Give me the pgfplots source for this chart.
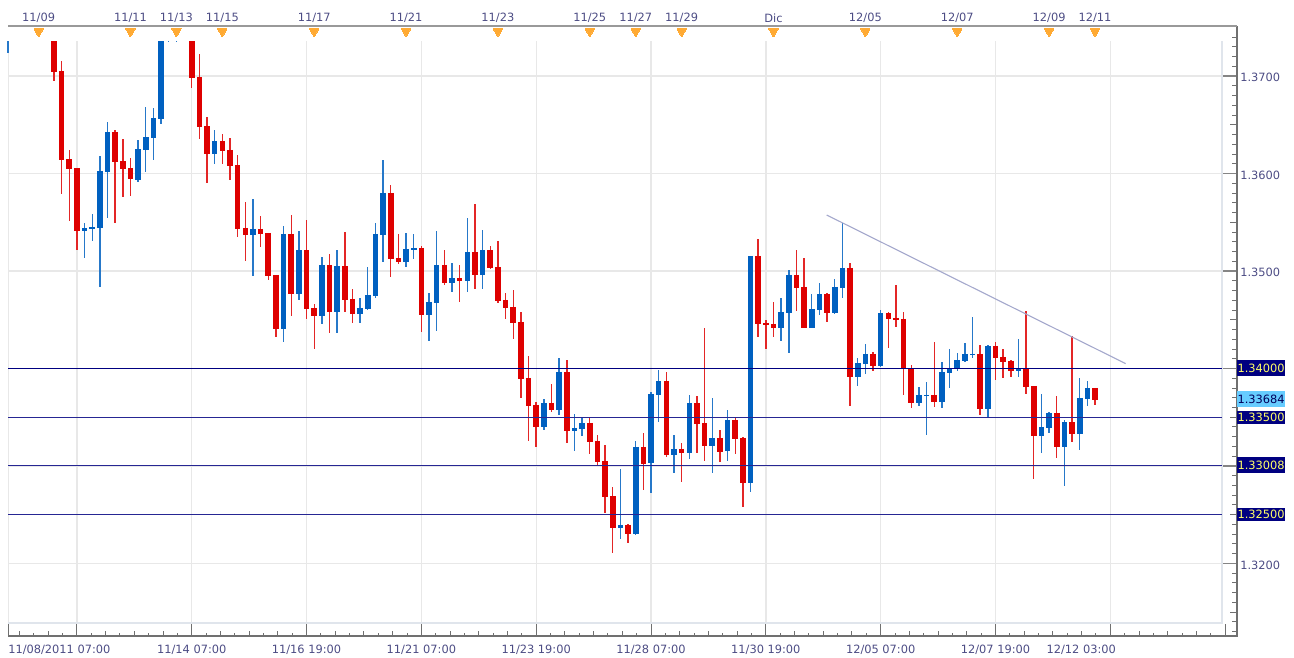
\documentclass[border=0pt]{standalone}
\usepackage{fontspec}
\setmainfont{DejaVu Sans}
\usepackage{pgfplots}
\usepackage{pgfplotstable}
\pgfplotsset{compat=1.18}
\newlength\px \setlength\px{0.75pt}
\definecolor{cred}{HTML}{DE0000}
\definecolor{cblue}{HTML}{0060C0}
\definecolor{navyb}{HTML}{000080}
\definecolor{lab}{HTML}{4C4C84}
\definecolor{gridc}{HTML}{E8E8E8}
\definecolor{edgec}{HTML}{E0E5EC}
\definecolor{tickc}{HTML}{707070}
\definecolor{trend}{HTML}{A4A8CC}
\definecolor{orangem}{HTML}{FFAA33}
\definecolor{yel}{HTML}{FFFF66}
\definecolor{cyanb}{HTML}{66CCFF}
% i high bodytop bodybottom low
\pgfplotstableread{
i H T B L
-3 1.37359 1.37359 1.37044 1.36949
-2 1.37151 1.37051 1.36135 1.35790
-1 1.36241 1.36146 1.36043 1.35516
0 1.36053 1.36053 1.35413 1.35219
5 1.36443 1.36426 1.36118 1.35495
6 1.36351 1.36125 1.36043 1.35762
7 1.36159 1.36053 1.35944 1.35769
15 1.37359 1.37359 1.36976 1.36877
16 1.37223 1.36987 1.36474 1.36354
17 1.36576 1.36484 1.36200 1.35903
19 1.36402 1.36333 1.36231 1.36097
20 1.36361 1.36241 1.36077 1.35933
21 1.36187 1.36087 1.35431 1.35349
22 1.35708 1.35441 1.35369 1.35103
24 1.35564 1.35431 1.35380 1.35246
25 1.35390 1.35390 1.34949 1.34908
26 1.34959 1.34959 1.34405 1.34323
28 1.35574 1.35380 1.34764 1.34539
30 1.35523 1.35215 1.34610 1.34508
31 1.34662 1.34621 1.34539 1.34200
33 1.35174 1.35062 1.34580 1.34364
35 1.35400 1.35051 1.34703 1.34580
36 1.34815 1.34713 1.34559 1.34467
41 1.35882 1.35800 1.35123 1.34939
42 1.35380 1.35133 1.35092 1.35072
45 1.35256 1.35236 1.34549 1.34374
48 1.35215 1.35062 1.34877 1.34856
50 1.35062 1.34928 1.34898 1.34682
52 1.35687 1.35195 1.34959 1.34815
54 1.35256 1.35215 1.35031 1.35021
55 1.35308 1.35041 1.34692 1.34672
56 1.34774 1.34703 1.34621 1.34508
57 1.34805 1.34631 1.34467 1.34303
58 1.34580 1.34477 1.33892 1.33698
59 1.34128 1.33903 1.33616 1.33257
60 1.33657 1.33626 1.33400 1.33195
62 1.33841 1.33646 1.33574 1.33554
64 1.34087 1.33964 1.33359 1.33236
67 1.33503 1.33441 1.33246 1.33123
68 1.33318 1.33257 1.33041 1.33010
69 1.33216 1.33051 1.32682 1.32518
70 1.32785 1.32692 1.32364 1.32108
72 1.32405 1.32395 1.32303 1.32210
74 1.33339 1.33195 1.33021 1.32754
77 1.33964 1.33872 1.33113 1.33092
79 1.33236 1.33175 1.33133 1.32836
81 1.33718 1.33646 1.33431 1.33133
82 1.34415 1.33441 1.33205 1.33051
84 1.33370 1.33287 1.33144 1.33041
86 1.33492 1.33472 1.33277 1.33123
87 1.33298 1.33287 1.32826 1.32580
89 1.35328 1.35154 1.34457 1.34323
90 1.34498 1.34467 1.34446 1.34200
91 1.34682 1.34457 1.34415 1.34323
94 1.35215 1.34959 1.34826 1.34590
95 1.35133 1.34836 1.34415 1.34415
98 1.34774 1.34764 1.34569 1.34477
101 1.35082 1.35031 1.33913 1.33616
104 1.34169 1.34149 1.34026 1.33974
106 1.34580 1.34569 1.34508 1.34210
107 1.34856 1.34518 1.34498 1.34426
108 1.34580 1.34508 1.34005 1.33728
109 1.34036 1.33998 1.33646 1.33595
112 1.34272 1.33728 1.33657 1.33605
118 1.34241 1.34149 1.33585 1.33523
120 1.34272 1.34231 1.34108 1.33882
121 1.34200 1.34118 1.34067 1.33903
122 1.34087 1.34077 1.33974 1.33913
124 1.34590 1.33995 1.33810 1.33739
125 1.33821 1.33821 1.33308 1.32867
128 1.33718 1.33544 1.33195 1.33082
130 1.34333 1.33451 1.33328 1.33246
133 1.33800 1.33800 1.33677 1.33626
}\redtab
\pgfplotstableread{
i H T B L
-9 1.37359 1.37359 1.37359 1.37236
1 1.35489 1.35438 1.35413 1.35136
2 1.35582 1.35451 1.35431 1.35311
3 1.36180 1.36026 1.35441 1.34833
4 1.36528 1.36426 1.36015 1.35547
8 1.36344 1.36251 1.35933 1.35916
9 1.36679 1.36374 1.36241 1.36015
10 1.36669 1.36566 1.36364 1.36138
11 1.37359 1.37359 1.36559 1.36508
12 1.37359 1.37359 1.37359 1.37349
13 1.37359 1.37359 1.37359 1.37349
18 1.36443 1.36333 1.36200 1.36097
23 1.35739 1.35431 1.35369 1.34949
27 1.35462 1.35380 1.34405 1.34272
29 1.35410 1.35215 1.34764 1.34703
32 1.35144 1.35062 1.34539 1.34457
34 1.35215 1.35051 1.34580 1.34364
37 1.34723 1.34621 1.34559 1.34467
38 1.35041 1.34754 1.34610 1.34600
39 1.35492 1.35380 1.34744 1.34723
40 1.36138 1.35800 1.35369 1.35092
43 1.35390 1.35226 1.35092 1.35041
44 1.35380 1.35236 1.35215 1.35123
46 1.34774 1.34682 1.34549 1.34282
47 1.35410 1.35062 1.34672 1.34385
49 1.35082 1.34928 1.34877 1.34785
51 1.35544 1.35195 1.34898 1.34785
53 1.35421 1.35215 1.34959 1.34815
61 1.33687 1.33646 1.33400 1.33370
63 1.34108 1.33964 1.33574 1.33523
65 1.33533 1.33390 1.33359 1.33154
66 1.33492 1.33441 1.33380 1.33308
71 1.32969 1.32395 1.32364 1.32251
73 1.33257 1.33195 1.32303 1.32292
75 1.33759 1.33739 1.33031 1.32723
76 1.33985 1.33872 1.33728 1.33451
78 1.33318 1.33175 1.33113 1.32928
80 1.33728 1.33646 1.33133 1.33072
83 1.33698 1.33287 1.33205 1.32928
85 1.33574 1.33472 1.33154 1.33051
88 1.35154 1.35154 1.32826 1.32734
92 1.34723 1.34580 1.34415 1.34282
93 1.35010 1.34959 1.34569 1.34159
96 1.34764 1.34610 1.34415 1.34415
97 1.34877 1.34764 1.34600 1.34549
99 1.34918 1.34836 1.34569 1.34559
100 1.35492 1.35031 1.34826 1.34723
102 1.34108 1.34057 1.33913 1.33821
103 1.34251 1.34149 1.34046 1.33944
105 1.34600 1.34569 1.34026 1.34016
110 1.33810 1.33728 1.33646 1.33616
111 1.33862 1.33728 1.33718 1.33318
113 1.34067 1.33964 1.33657 1.33595
114 1.34200 1.34005 1.33954 1.33800
115 1.34159 1.34087 1.34005 1.33974
116 1.34262 1.34149 1.34077 1.34067
117 1.34528 1.34149 1.34139 1.34108
119 1.34241 1.34231 1.33585 1.33492
123 1.34303 1.33995 1.33974 1.33913
126 1.33739 1.33400 1.33308 1.33133
127 1.33554 1.33544 1.33390 1.33339
129 1.33472 1.33451 1.33195 1.32795
131 1.33903 1.33698 1.33328 1.33164
132 1.33872 1.33800 1.33687 1.33616
}\bluetab
\pgfplotstableread{
i y label
-5 1.37456 11/09
7 1.37456 11/11
13 1.37456 11/13
19 1.37456 11/15
31 1.37456 11/17
43 1.37456 11/21
55 1.37456 11/23
67 1.37456 11/25
73 1.37456 11/27
79 1.37456 11/29
91 1.37456 Dic
103 1.37456 12/05
115 1.37456 12/07
127 1.37456 12/09
133 1.37456 12/11
}\eventtab
\newcommand\lf{\fontsize{8.55}{10}\selectfont}
\begin{document}
\begin{tikzpicture}
\path[use as bounding box] (0,0) rectangle (1294\px,657\px);
\begin{axis}[
  scale only axis, width=921.75pt, height=457.5pt,
  at={(8\px,21\px)}, anchor=south west,
  xmin=-9, xmax=151.55, ymin=1.31256, ymax=1.37513,
  clip=false,
  axis line style={draw=none},
  tick align=inside, xtick pos=bottom, ytick pos=right,
  tick style={draw=tickc, line width=1\px},
  major tick length=12\px, minor tick length=5.5\px,
  xtick={0,15,...,150},
  xticklabels={,11/14 07:00,11/16 19:00,11/21 07:00,11/23 19:00,11/28 07:00,11/30 19:00,12/05 07:00,12/07 19:00,,},
  xticklabel style={font=\lf, text=lab, inner sep=0pt, yshift=-8.5\px},
  minor xtick={-7.5,-3.75,...,150},
  extra x ticks={-5.625,-1.875,1.875,5.625,9.375,13.125,16.875,20.625,24.375,28.125,31.875,35.625,39.375,43.125,46.875,50.625,54.375,58.125,61.875,65.625,69.375,73.125,76.875,80.625,84.375,88.125,91.875,95.625,99.375,103.125,106.875,110.625,114.375,118.125,121.875,125.625,129.375,133.125,136.875,140.625,144.375,148.125},
  extra x tick labels={},
  extra x tick style={major tick length=3\px},
  ytick={1.32,1.33,1.34,1.35,1.36,1.37},
  yticklabels={1.3200,,,1.3500,1.3600,1.3700},
  yticklabel style={font=\lf, text=lab, anchor=west, inner sep=0pt, xshift=3\px, yshift=-1.5\px},
  minor ytick={1.313,1.314,...,1.3735},
  extra y ticks={1.315,1.325,1.335,1.345,1.355,1.365},
  extra y tick labels={},
  extra y tick style={major tick length=7.5\px},
  scaled y ticks=false,
]
% grid
\pgfplotsinvokeforeach{0,15,...,135}{
  \addplot[gridc, line width=1.3\px, forget plot] coordinates {(#1,1.37359) (#1,1.3139)};
}
\addplot[gridc, line width=1\px, forget plot] coordinates {(-9,1.37359) (-9,1.3139)};
\addplot[tickc, line width=1\px, forget plot] coordinates {(-9,1.3139) (-9,1.31256)};
\pgfplotsinvokeforeach{1.32,1.33,1.34,1.35,1.36,1.37}{
  \addplot[gridc, line width=1.3\px, forget plot] coordinates {(-9,#1) (149.6,#1)};
  \addplot[tickc!85, line width=1.3\px, forget plot] coordinates {(149.6,#1) (151.55,#1)};
}
\addplot[edgec, line width=2\px, forget plot] coordinates {(-9,1.31390) (149.6,1.31390) (149.6,1.37359)};
% frame
\addplot[tickc, line width=1.2\px, forget plot] coordinates {(-9,1.31256) (151.55,1.31256) (151.55,1.37513)};
\addplot[black!40, line width=1.2\px, forget plot] coordinates {(-9,1.37513) (151.55,1.37513)};
% wicks and bodies
\addplot[draw=none, mark=none, forget plot, error bars/.cd, y dir=both, y explicit, error mark=none,
  error bar style={draw=cred!85, line width=1.4\px}]
  table[x=i, y=T, y error plus expr=\thisrow{H}-\thisrow{T}, y error minus expr=\thisrow{T}-\thisrow{L}] {\redtab};
\addplot[draw=none, mark=none, forget plot, error bars/.cd, y dir=both, y explicit, error mark=none,
  error bar style={draw=cblue!85, line width=1.4\px}]
  table[x=i, y=T, y error plus expr=\thisrow{H}-\thisrow{T}, y error minus expr=\thisrow{T}-\thisrow{L}] {\bluetab};
\addplot[draw=none, mark=none, forget plot, error bars/.cd, y dir=minus, y explicit, error mark=none,
  error bar style={draw=cred, line width=5.6\px}]
  table[x=i, y=T, y error minus expr=\thisrow{T}-\thisrow{B}] {\redtab};
\addplot[draw=none, mark=none, forget plot, error bars/.cd, y dir=minus, y explicit, error mark=none,
  error bar style={draw=cblue, line width=5.6\px}]
  table[x=i, y=T, y error minus expr=\thisrow{T}-\thisrow{B}] {\bluetab};
% horizontal levels
\addplot[navyb, line width=1.1\px, forget plot] coordinates {(-9,1.34) (149.6,1.34)};
\addplot[navyb!85, line width=1.2\px, forget plot] coordinates {(-9,1.335) (149.6,1.335)};
\addplot[navyb!85, line width=1.2\px, forget plot] coordinates {(-9,1.33008) (149.6,1.33008)};
\addplot[navyb!85, line width=1.2\px, forget plot] coordinates {(-9,1.325) (149.6,1.325)};
% trend line
\addplot[trend, line width=1.1\px, forget plot] coordinates {(97.95,1.35574) (137.0,1.34050)};
% event markers
\addplot[only marks, mark=triangle*, mark size=4pt, mark options={rotate=180, fill=orangem, draw=orangem, line width=0pt},
  nodes near coords, point meta=explicit symbolic,
  nodes near coords style={font=\lf, text=lab, anchor=center, inner sep=0pt, yshift=13.5\px}, forget plot]
  table[x=i, y=y, meta=label] {\eventtab};
% level labels
\newcommand\lvl[5]{\node[fill=#3, text=#4, font=\lf, inner sep=0pt, minimum width=47.6\px, minimum height=#5, anchor=west] at (axis cs:151.55,#1) {#2};}
\lvl{1.33684}{1.33684}{cyanb}{navyb!70!black}{16\px}
\lvl{1.34}{1.34000}{navyb}{yel}{16\px}
\lvl{1.335}{1.33500}{navyb}{yel}{13\px}
\lvl{1.33008}{1.33008}{navyb}{yel}{16\px}
\lvl{1.325}{1.32500}{navyb}{yel}{13\px}
% outer time labels
\node[font=\lf, text=lab, anchor=west, inner sep=0pt] at (axis cs:-9,1.31256) [yshift=-13.5\px] {11/08/2011 07:00};
\node[font=\lf, text=lab, anchor=center, inner sep=0pt] at (axis cs:131.2,1.31256) [yshift=-13.5\px] {12/12 03:00};
\end{axis}
\end{tikzpicture}
\end{document}
